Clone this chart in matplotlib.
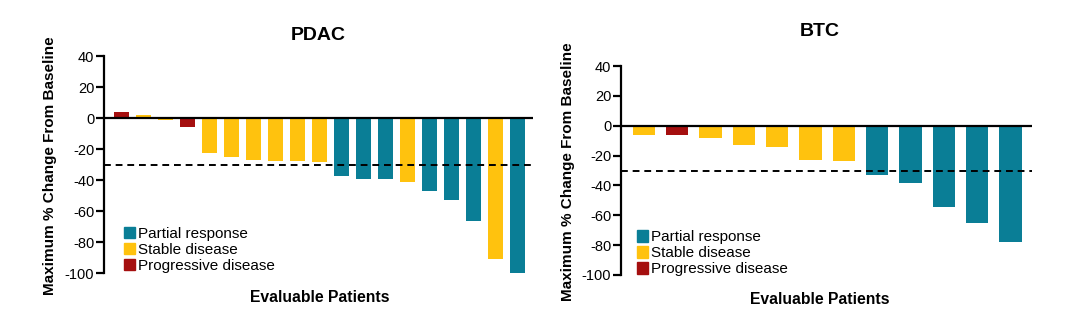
import matplotlib.pyplot as plt
from matplotlib.patches import Patch

plt.rcParams['font.family'] = ['Liberation Sans', 'DejaVu Sans']
plt.rcParams['axes.unicode_minus'] = False

# ---------------------------------------------
# Data (maximum % change from baseline per patient)
# ---------------------------------------------
pdac_values = [4, 2, -1, -6, -22.5, -25, -27, -27.5, -27.5, -28.5,
               -37, -39, -39.5, -41.5, -47, -52.5, -66.5, -91, -100]
pdac_resp = ['PD', 'SD', 'SD', 'PD', 'SD', 'SD', 'SD', 'SD', 'SD', 'SD',
             'PR', 'PR', 'PR', 'SD', 'PR', 'PR', 'PR', 'SD', 'PR']

btc_values = [-6.5, -6.5, -8, -13, -14, -23, -23.5, -33, -38.5, -54.5, -65, -78]
btc_resp = ['SD', 'PD', 'SD', 'SD', 'SD', 'SD', 'SD', 'PR', 'PR', 'PR', 'PR', 'PR']

threshold = -30
yticks = [40, 20, 0, -20, -40, -60, -80, -100]

colors = {'PR': '#0A7E96', 'SD': '#FFC20E', 'PD': '#A50F0F'}
labels = {'PR': 'Partial response', 'SD': 'Stable disease', 'PD': 'Progressive disease'}


def waterfall(ax, values, resp, xlim, leg_anchor):
    x = range(len(values))
    ax.bar(x, values, width=0.67, color=[colors[r] for r in resp], zorder=2)
    ax.axhline(0, color='black', lw=1.6, zorder=3)
    ax.axhline(threshold, color='black', lw=1.4, ls=(0, (3.5, 2.5)), zorder=4)
    ax.set_xlim(*xlim)
    ax.set_ylim(-100, 40)
    ax.set_yticks(yticks)
    ax.set_xticks([])
    for s in ['top', 'right', 'bottom']:
        ax.spines[s].set_visible(False)
    ax.spines['left'].set_linewidth(1.6)
    ax.tick_params(axis='y', length=6, width=1.6, labelsize=10.5, pad=1)
    handles = [Patch(color=colors[k], label=labels[k]) for k in ['PR', 'SD', 'PD']]
    ax.legend(handles=handles, loc='upper left', bbox_to_anchor=leg_anchor,
              frameon=False, fontsize=11, handlelength=0.7, handleheight=0.8,
              handletextpad=0.2, labelspacing=0.12, borderpad=0, borderaxespad=0)


fig = plt.figure(figsize=(10.75, 3.34), dpi=100)

ax1 = fig.add_axes([104 / 1075, 1 - 273.3 / 334, 429 / 1075, 217.3 / 334])
waterfall(ax1, pdac_values, pdac_resp, (-0.8, 18.7), (0.047, 0.215))

ax2 = fig.add_axes([621 / 1075, 1 - 275 / 334, 410.7 / 1075, 209 / 334])
waterfall(ax2, btc_values, btc_resp, (-0.685, 11.635), (0.039, 0.215))

# titles and axis labels
fig.text(318 / 1075, 1 - 35 / 334, 'PDAC', ha='center', va='center', fontsize=14, fontweight='bold')
fig.text(820 / 1075, 1 - 31 / 334, 'BTC', ha='center', va='center', fontsize=14, fontweight='bold')
fig.text(320 / 1075, 1 - 298 / 334, 'Evaluable Patients', ha='center', va='center', fontsize=11.3, fontweight='bold')
fig.text(820 / 1075, 1 - 300 / 334, 'Evaluable Patients', ha='center', va='center', fontsize=11.3, fontweight='bold')
fig.text(50.5 / 1075, 1 - 166 / 334, 'Maximum % Change From Baseline', ha='center', va='center',
         rotation=90, fontsize=11, fontweight='bold')
fig.text(568 / 1075, 1 - 172 / 334, 'Maximum % Change From Baseline', ha='center', va='center',
         rotation=90, fontsize=11, fontweight='bold')

fig.savefig('out.png', dpi=100)
